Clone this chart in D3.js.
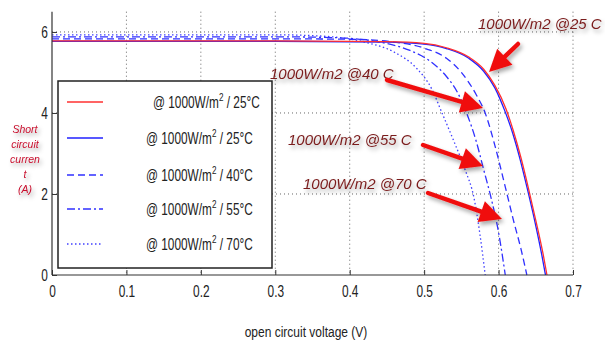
<!DOCTYPE html>
<html>
<head>
<meta charset="utf-8">
<script src="https://cdn.jsdelivr.net/npm/d3@7"></script>
<style>
  body { margin: 0; background: #fff; }
  svg { display: block; }
</style>
</head>
<body>
<svg id="chart" width="605" height="341"></svg>
<script>
// I-V curves: [voltage (V), current (A)]
var red25 = [[0,5.78],[0.30,5.78],[0.45,5.76],[0.50,5.72],[0.53,5.61],[0.56,5.38],[0.58,5.08],[0.595,4.68],[0.61,4.10],[0.62,3.55],[0.63,2.90],[0.64,2.15],[0.65,1.35],[0.66,0.50],[0.665,0]];
var blue25 = [[0,5.77],[0.30,5.77],[0.45,5.75],[0.50,5.70],[0.53,5.59],[0.56,5.35],[0.58,5.03],[0.595,4.62],[0.608,4.07],[0.619,3.50],[0.629,2.85],[0.639,2.10],[0.649,1.30],[0.658,0.50],[0.663,0]];
var blue40 = [[0,5.83],[0.30,5.83],[0.40,5.82],[0.46,5.75],[0.50,5.60],[0.53,5.35],[0.55,5.00],[0.57,4.45],[0.582,4.00],[0.595,3.20],[0.61,2.10],[0.62,1.35],[0.63,0.65],[0.638,0]];
var blue55 = [[0,5.88],[0.30,5.88],[0.38,5.86],[0.44,5.75],[0.48,5.55],[0.51,5.25],[0.53,4.90],[0.545,4.50],[0.557,4.00],[0.57,3.30],[0.58,2.60],[0.59,1.90],[0.60,1.05],[0.609,0]];
var blue70 = [[0,5.93],[0.30,5.93],[0.36,5.90],[0.42,5.75],[0.46,5.50],[0.49,5.10],[0.51,4.60],[0.524,4.00],[0.54,3.30],[0.555,2.60],[0.567,1.90],[0.575,1.00],[0.582,0]];

var xTicks = [0, 0.1, 0.2, 0.3, 0.4, 0.5, 0.6, 0.7];
var yTicks = [0, 2, 4, 6];

var legendLabels = ["25°C", "25°C", "40°C", "55°C", "70°C"];
var annotations = ["1000W/m2 @25 C", "1000W/m2 @40 C", "1000W/m2 @55 C", "1000W/m2 @70 C"];
var yLabelLines = ["Short", "circuit", "curren", "t", "(A)"];

var series = [
  {data: red25, color: "#ff3030", dash: null},
  {data: blue25, color: "#2020ff", dash: null},
  {data: blue40, color: "#3030ff", dash: "7,4"},
  {data: blue55, color: "#3030ff", dash: "8,3,2,3"},
  {data: blue70, color: "#4040ff", dash: "1.5,2.5"}
];

var FONT = "Liberation Sans, Arial, sans-serif";
var svg = d3.select("#chart");

var x = d3.scaleLinear().domain([0, 0.7]).range([52, 573]);
var y = d3.scaleLinear().domain([0, 6.5]).range([275, 11.7]);

var defs = svg.append("defs");
var sh = defs.append("filter").attr("id", "shadow").attr("x", "-20%").attr("y", "-40%").attr("width", "150%").attr("height", "200%");
sh.append("feDropShadow").attr("dx", 2).attr("dy", 3).attr("stdDeviation", 2)
  .attr("flood-color", "#000").attr("flood-opacity", 0.35);

// grid
var grid = svg.append("g");
grid.selectAll(".vg").data(xTicks.slice(1)).enter().append("line")
  .attr("x1", d => x(d)).attr("x2", d => x(d)).attr("y1", y(6.5)).attr("y2", y(0))
  .attr("stroke", "#666").attr("stroke-width", 1).attr("stroke-dasharray", "1,3");
grid.selectAll(".hg").data(yTicks.slice(1)).enter().append("line")
  .attr("x1", x(0)).attr("x2", x(0.7)).attr("y1", d => y(d)).attr("y2", d => y(d))
  .attr("stroke", "#666").attr("stroke-width", 1).attr("stroke-dasharray", "1,3");

// curves
var line = d3.line().x(d => x(d[0])).y(d => y(d[1])).curve(d3.curveMonotoneX);
svg.append("g").selectAll("path").data(series.slice().reverse()).enter().append("path")
  .attr("d", d => line(d.data))
  .attr("fill", "none")
  .attr("stroke", d => d.color)
  .attr("stroke-width", 1.3)
  .attr("stroke-dasharray", d => d.dash);

// axes (condensed look like the matlab export)
var xAxis = svg.append("g").attr("transform", "translate(0," + y(0) + ")")
  .call(d3.axisBottom(x).tickValues(xTicks).tickSize(-5).tickPadding(10).tickFormat(d => d === 0 ? "0" : d3.format(".1f")(d)));
var yAxis = svg.append("g").attr("transform", "translate(" + x(0) + ",0)")
  .call(d3.axisLeft(y).tickValues(yTicks).tickSize(-5).tickPadding(6).tickFormat(d3.format("d")));
[xAxis, yAxis].forEach(function(a) {
  a.select(".domain").attr("stroke", "#333").attr("stroke-width", 1.2);
  a.selectAll(".tick line").attr("stroke", "#333");
  a.selectAll("text").attr("font-family", FONT).attr("font-size", 17).attr("fill", "#222")
    .attr("transform", "scale(0.7,1)");
});
yAxis.select(".domain").attr("d", "M0," + y(6.5) + "V" + y(0));
xAxis.select(".domain").attr("d", "M" + x(0) + ",0H" + x(0.7));

// legend
var lg = svg.append("g");
lg.append("rect").attr("x", 58).attr("y", 81).attr("width", 214).attr("height", 187)
  .attr("fill", "#fff").attr("stroke", "#222").attr("stroke-width", 1.5);
var rowY = [102, 138, 175, 209, 244];
series.forEach(function(s, i) {
  lg.append("line").attr("x1", 67).attr("x2", 103)
    .attr("y1", rowY[i]).attr("y2", rowY[i])
    .attr("stroke", s.color).attr("stroke-width", 1.6).attr("stroke-dasharray", s.dash);
  var t = lg.append("text")
    .attr("transform", "translate(" + (i === 0 ? 153 : 146) + "," + (rowY[i] + 6) + ") scale(0.74,1)")
    .attr("font-family", FONT).attr("font-size", 16).attr("fill", "#222");
  t.append("tspan").text("@ 1000W/m");
  t.append("tspan").attr("dy", -7).attr("font-size", 11).text("2");
  t.append("tspan").attr("dy", 7).text(" / " + legendLabels[i]);
});

// annotations with arrows
var ann = [
  {text: annotations[0], tx: 478, ty: 29, x1: 518, y1: 44, x2: 489, y2: 72},
  {text: annotations[1], tx: 270, ty: 79, x1: 387, y1: 80, x2: 483, y2: 108},
  {text: annotations[2], tx: 288, ty: 145, x1: 423, y1: 145, x2: 483, y2: 166},
  {text: annotations[3], tx: 303, ty: 189, x1: 428, y1: 193, x2: 502, y2: 219}
];
var ag = svg.append("g").attr("filter", "url(#shadow)");
ann.forEach(function(a) {
  ag.append("text").attr("x", a.tx).attr("y", a.ty)
    .attr("font-family", FONT).attr("font-style", "italic")
    .attr("font-size", 15).attr("fill", "#7a1c1c").text(a.text);
  var ang = Math.atan2(a.y2 - a.y1, a.x2 - a.x1);
  var hl = 22, hw = 11;
  var bx = a.x2 - hl * Math.cos(ang), by = a.y2 - hl * Math.sin(ang);
  ag.append("line").attr("x1", a.x1).attr("y1", a.y1).attr("x2", bx).attr("y2", by)
    .attr("stroke", "#f01010").attr("stroke-width", 4.5).attr("stroke-linecap", "round");
  var px = -Math.sin(ang), py = Math.cos(ang);
  ag.append("path")
    .attr("d", "M" + a.x2 + "," + a.y2 + "L" + (bx + px * hw) + "," + (by + py * hw) + "L" + (bx - px * hw) + "," + (by - py * hw) + "Z")
    .attr("fill", "#f01010");
});

// axis titles
var yl = svg.append("g").attr("filter", "url(#shadow)");
yLabelLines.forEach(function(s, i) {
  yl.append("text").attr("x", 25).attr("y", 133 + i * 15).attr("text-anchor", "middle")
    .attr("font-family", FONT).attr("font-style", "italic")
    .attr("font-size", 10.5).attr("fill", "#c8102e").text(s);
});
svg.append("text").attr("transform", "translate(306,337) scale(0.8,1)").attr("text-anchor", "middle")
  .attr("font-family", FONT).attr("font-size", 15).attr("fill", "#222").text("open circuit voltage (V)");
</script>
</body>
</html>
